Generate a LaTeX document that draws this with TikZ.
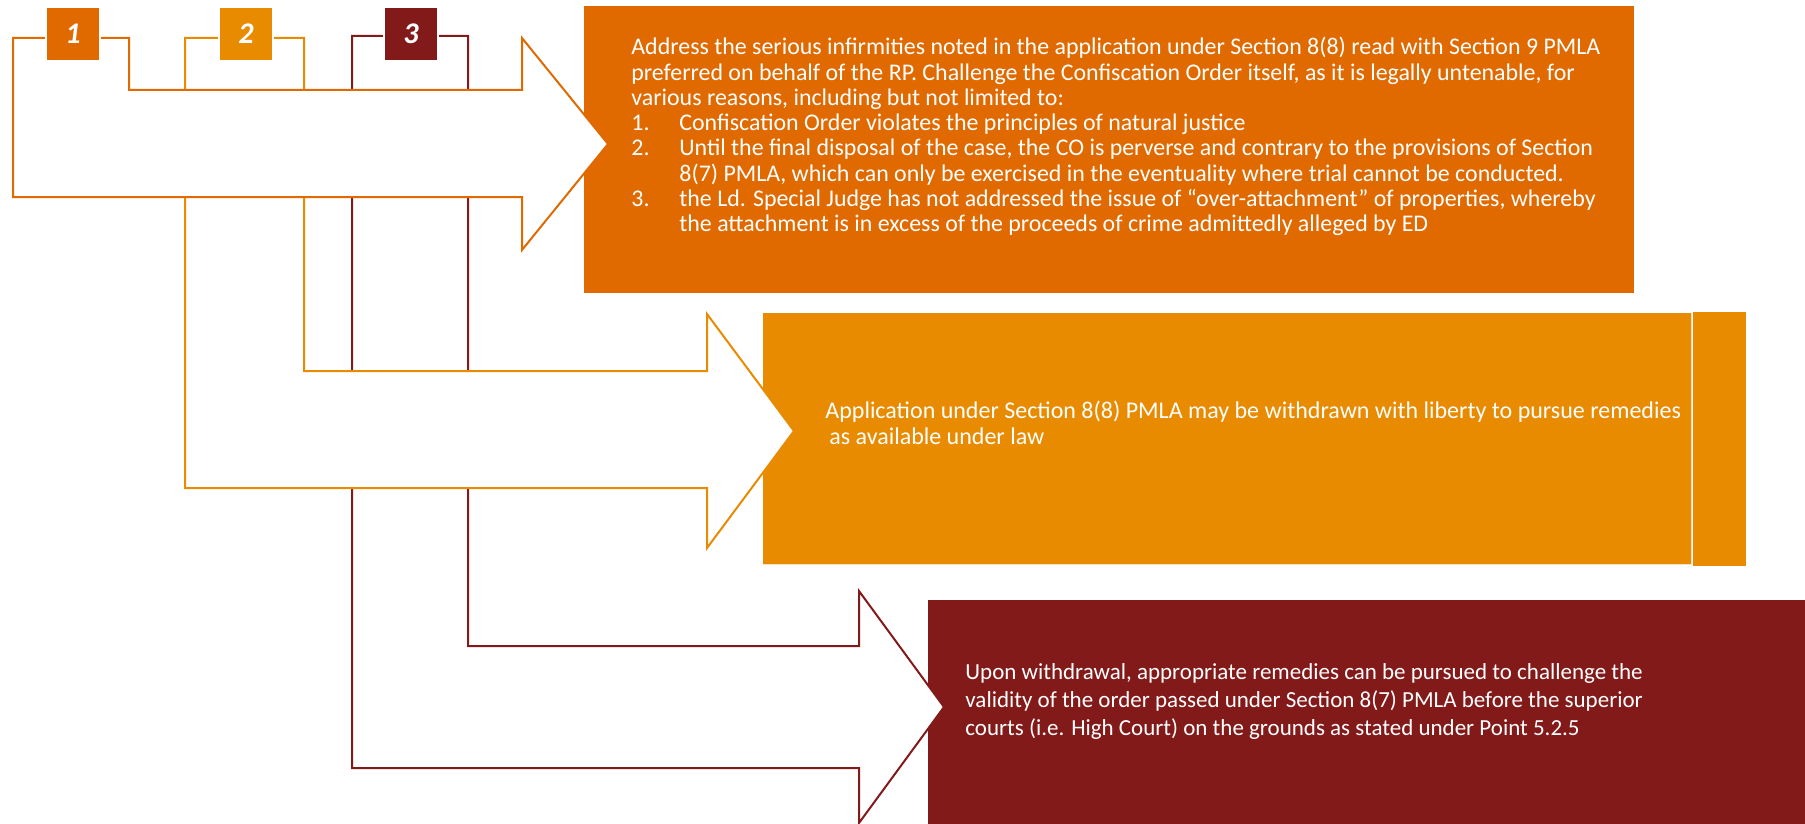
\documentclass[tikz,border=0pt]{standalone}
\usepackage{fontspec}
\setmainfont{Carlito}
\definecolor{rustorange}{RGB}{224,106,0}
\definecolor{amber}{RGB}{233,139,0}
\definecolor{maroon}{RGB}{131,26,26}
\begin{document}
\begin{tikzpicture}[x=0.5pt,y=-0.5pt,
  bentarrow/.style={fill=white,line width=1pt,line join=miter},
  numbox/.style={minimum width=27pt,minimum height=27pt,inner sep=0pt,
    draw=white,line width=0.6pt,text=white,
    font=\fontsize{15pt}{18pt}\selectfont\bfseries\itshape},
  bodytext/.style={anchor=base west,inner sep=0pt,text=white}]
\useasboundingbox (0,0) rectangle (1805,824);

% coloured panels
\fill[rustorange] (584,6) rectangle (1634,293);
\fill[amber] (763,313) rectangle (1691,564);
\fill[amber] (1693,312) rectangle (1746,566);
\draw[white!75!amber,line width=0.6pt] (763,564.5) -- (1691.5,564.5) -- (1691.5,313);
\fill[maroon] (928,600) rectangle (1805,824);

% bent arrows, back to front
\draw[bentarrow,draw=maroon] (352,36) -- (468,36) -- (468,646) -- (859,646) -- (859,591)
  -- (944,707) -- (859,823) -- (859,768) -- (352,768) -- cycle;
\draw[bentarrow,draw=amber] (185,38) -- (304,38) -- (304,371) -- (707,371) -- (707,314)
  -- (794,431) -- (707,548) -- (707,488) -- (185,488) -- cycle;
\draw[bentarrow,draw=rustorange] (13,38) -- (129,38) -- (129,90) -- (522,90) -- (522,38)
  -- (608,144) -- (522,250) -- (522,197) -- (13,197) -- cycle;

% numbered tabs
\node[numbox,fill=rustorange] (n1) at (73,34) {1};
\node[numbox,fill=amber] (n2) at (246,34) {2};
\node[numbox,fill=maroon] (n3) at (411,34) {3};

% panel texts
\node[bodytext] (t1) at (631,55) {\parbox[t]{560pt}{\fontsize{11.95pt}{12.62pt}\selectfont\raggedright
Address the serious infirmities noted in the application under Section 8(8) read with Section 9 PMLA\\
preferred on behalf of the RP. Challenge the Confiscation Order itself, as it is legally untenable, for\\
various reasons, including but not limited to:\\
\makebox[24pt][l]{1.}Confiscation Order violates the principles of natural justice\\
\makebox[24pt][l]{2.}Until the final disposal of the case, the CO is perverse and contrary to the provisions of Section\\
\hspace*{24pt}8(7) PMLA, which can only be exercised in the eventuality where trial cannot be conducted.\\
\makebox[24pt][l]{3.}the Ld. Special Judge has not addressed the issue of “over-attachment” of properties, whereby\\
\hspace*{24pt}the attachment is in excess of the proceeds of crime admittedly alleged by ED}};

\node[bodytext] (t2) at (825,418) {\parbox[t]{470pt}{\fontsize{12pt}{13pt}\selectfont\raggedright
Application under Section 8(8) PMLA may be withdrawn with liberty to pursue remedies\\
\hspace*{2pt}as available under law}};

\node[bodytext] (t3) at (965,679) {\parbox[t]{420pt}{\fontsize{11.5pt}{14pt}\selectfont\raggedright
Upon withdrawal, appropriate remedies can be pursued to challenge the\\
validity of the order passed under Section 8(7) PMLA before the superior\\
courts (i.e. High Court) on the grounds as stated under Point 5.2.5}};
\end{tikzpicture}
\end{document}
